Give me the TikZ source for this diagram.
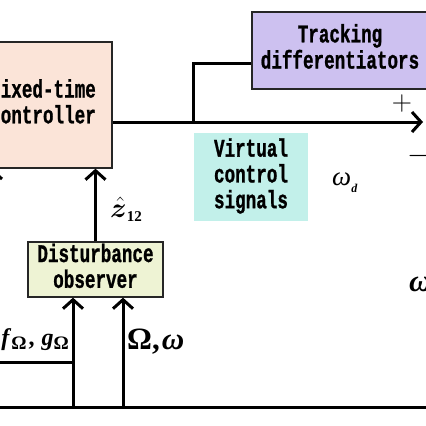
\RequirePackage{fix-cm}
\documentclass[tikz,border=0pt]{standalone}
\usepackage{fontspec}
\usepackage{bm}
\usetikzlibrary{arrows.meta}
\newfontfamily\monofont[BoldFeatures={FakeBold=1.2}]{Liberation Mono}
\newfontfamily\tms{Liberation Serif}
\newcommand{\boxtxt}[1]{\scalebox{0.8}[1.15]{\monofont\bfseries\fontsize{22}{21.7}\selectfont\begin{tabular}{@{}c@{}}#1\end{tabular}}}
\newcommand{\subOm}{\raisebox{-4pt}{\fontsize{19}{19}\selectfont Ω}}
\definecolor{ctrlfill}{RGB}{251,228,216}
\definecolor{tdfill}{RGB}{205,193,240}
\definecolor{vcsfill}{RGB}{194,240,234}
\definecolor{dofill}{RGB}{238,243,212}
\tikzset{
  blk/.style={draw=black!85, line width=1.3pt, rectangle, inner sep=0pt, align=center},
  wire/.style={line width=3pt},
  arr/.style={wire, -{Straight Barb[length=9pt,width=20pt,line width=3pt]}},
  lbl/.style={inner sep=0pt}
}
\begin{document}
\begin{tikzpicture}[x=1pt,y=-1pt]
\useasboundingbox (0,0) rectangle (426,426);
\clip (0,0) rectangle (426,426);
% blocks
\node[blk, fill=ctrlfill, minimum width=142, minimum height=126] (ctrl) at (41,105) {};
\node[lbl] (ctrltxt) at (43,105) {\boxtxt{Fixed-time\\controller}};
\node[blk, fill=tdfill, minimum width=178, minimum height=77] (td) at (341,50.5) {};
\node[lbl] (tdtxt) at (340,50) {\boxtxt{Tracking\\differentiators}};
\node[rectangle, fill=vcsfill, minimum width=114, minimum height=88, inner sep=0pt] (vcs) at (251,177) {\boxtxt{Virtual\\control\\signals}};
\node[blk, fill=dofill, minimum width=135, minimum height=55] (do) at (95.5,269.5) {\boxtxt{Disturbance\\observer}};
% coordinates
\coordinate (out) at (423,122);
\coordinate (br) at (193,122);
\coordinate (brtop) at (193,63);
\coordinate (bl) at (0,407);
\coordinate (brr) at (426,407);
\coordinate (j1) at (73,407);
\coordinate (j2) at (123,407);
\coordinate (j1m) at (73,362);
\coordinate (lm) at (0,362);
\coordinate (lfar) at (-8,260);
\coordinate (ltip) at (-8,168);
% connectors
\draw[arr] (ctrl.east |- out) -- (out);
\draw[wire] (br) -- (brtop) -- (td.west |- brtop);
\draw[arr] (do.north) -- (do.north |- ctrl.south);
\draw[wire] (bl) -- (brr);
\draw[arr] (j1) -- (j1 |- do.south);
\draw[arr] (j2) -- (j2 |- do.south);
\draw[wire] (lm) -- (j1m);
\draw[arr] (lfar) -- (ltip);
% labels
\node[lbl, anchor=base west, font=\fontsize{28}{28}\selectfont] (zhat) at (110,217) {$\bm{\hat{z}}$\raisebox{-4pt}{\tms\bfseries\fontsize{15}{15}\selectfont 12}};
\node[lbl, font=\fontsize{28}{28}\selectfont] (plus) at (402,103) {$+$};
\node[lbl, font=\fontsize{30}{30}\selectfont] (minus) at (419,156) {$-$};
\node[lbl, anchor=base west, font=\tms\fontsize{27}{27}\selectfont] (wd) at (332,185) {\textit{ω}\raisebox{-7pt}{\bfseries\itshape\fontsize{12}{12}\selectfont d}};
\node[lbl, anchor=base west, font=\tms\bfseries\fontsize{31}{31}\selectfont] (wr) at (409,291) {\textit{ω}};
\node[lbl, anchor=base east, font=\tms\bfseries\fontsize{24}{24}\selectfont] (fg) at (69,345) {\textit{f}\subOm\hspace{2pt},\hspace{7pt}\textit{g}\subOm};
\node[lbl, anchor=base west, font=\tms\bfseries\fontsize{31}{31}\selectfont] (Ow) at (127,349) {Ω,\hspace{2pt}\textit{ω}};
\end{tikzpicture}
\end{document}
